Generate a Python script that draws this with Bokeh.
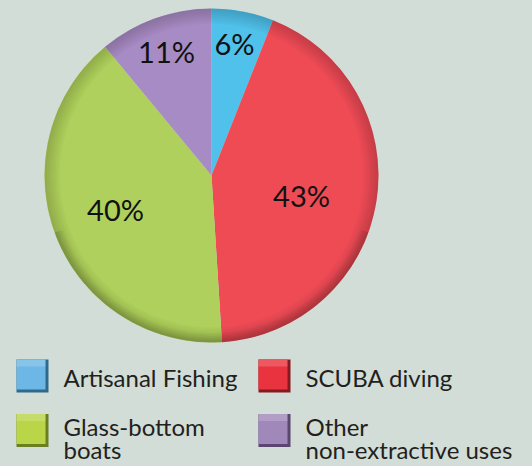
import math
from bokeh.plotting import figure
from bokeh.models import Range1d, ColumnDataSource
from bokeh.core.properties import value
from bokeh.embed import file_html
from bokeh.resources import INLINE

# ---- data ----
categories = ["Artisanal Fishing", "SCUBA diving", "Glass-bottom boats", "Other non-extractive uses"]
shares = [6, 43, 40, 11]
labels = ["6%", "43%", "40%", "11%"]
slice_colors = ["#4FC1EA", "#EF4B55", "#AFD05C", "#A78BC4"]
legend_colors = ["#6DB7E6", "#E9343F", "#B9D548", "#A188BB"]
legend_dark = ["#2E6A8C", "#8A1820", "#6C7E22", "#5A4670"]
legend_lines = [["Artisanal Fishing"], ["SCUBA diving"], ["Glass-bottom", "boats"], ["Other", "non-extractive uses"]]

BG = "#D1DDD6"
W, H = 532, 466

p = figure(width=W, height=H, x_range=Range1d(0, W), y_range=Range1d(0, H),
           output_backend="svg", toolbar_location=None, min_border=0)
p.axis.visible = False
p.grid.visible = False
p.outline_line_color = None
p.background_fill_color = BG
p.border_fill_color = BG

def dx(X):
    return X
def dy(Y):
    return H - Y

cx, cy, R = dx(211), dy(175), 167

total = float(sum(shares))
starts, ends = [], []
cum = 0.0
for s in shares:
    starts.append(math.pi / 2 - 2 * math.pi * cum / total)
    cum += s
    ends.append(math.pi / 2 - 2 * math.pi * cum / total)

src = ColumnDataSource(dict(start=starts, end=ends, color=slice_colors))
p.wedge(x=cx, y=cy, radius=R, start_angle="start", end_angle="end",
        direction="clock", fill_color="color", line_color=None, source=src)

# soft darker rim to suggest the bevel (a bit heavier toward the bottom)
for i in range(7):
    p.annulus(x=cx, y=cy, inner_radius=R - 2 - i * 2.2, outer_radius=R,
              fill_color="black", fill_alpha=0.022, line_color=None)
for i in range(4):
    p.annular_wedge(x=cx, y=cy, inner_radius=R - 3 - i * 2, outer_radius=R,
                    start_angle=math.radians(200), end_angle=math.radians(340),
                    fill_color="black", fill_alpha=0.03, line_color=None)

# slice labels
lx = [dx(234), dx(301), dx(115), dx(166)]
ly = [dy(43), dy(195), dy(209), dy(51)]
p.text(x=lx, y=ly, text=labels, text_font=value("Lato"), text_font_size="29px",
       text_align="center", text_baseline="middle", text_color="#111111")

# legend squares (bevelled)
sq_x = [dx(32), dx(274), dx(32), dx(274)]
sq_y = [dy(375.5), dy(375.5), dy(430), dy(430)]
p.rect(x=sq_x, y=sq_y, width=32, height=33, fill_color=legend_dark, line_color=None)
p.rect(x=[x - 1.5 for x in sq_x], y=[y + 1.5 for y in sq_y], width=29, height=30,
       fill_color=legend_colors, line_color=None)
p.rect(x=[x - 1.5 for x in sq_x], y=[y + 13 for y in sq_y], width=29, height=7,
       fill_color="white", fill_alpha=0.18, line_color=None)

# legend texts
tx, ty, tt = [], [], []
text_left = [dx(63), dx(305), dx(63), dx(305)]
base1 = [dy(377), dy(377), dy(426), dy(426)]
for i, lines in enumerate(legend_lines):
    for j, line in enumerate(lines):
        tx.append(text_left[i])
        ty.append(base1[i] - j * 23)
        tt.append(line)
p.text(x=tx, y=ty, text=tt, text_font=value("Lato"), text_font_size="24px",
       text_align="left", text_baseline="alphabetic", text_color="#231F20")

html = file_html(p, INLINE)
html = html.replace("<head>", "<head><style>body{background:%s;}</style>" % BG, 1)
open("out.html", "w").write(html)
